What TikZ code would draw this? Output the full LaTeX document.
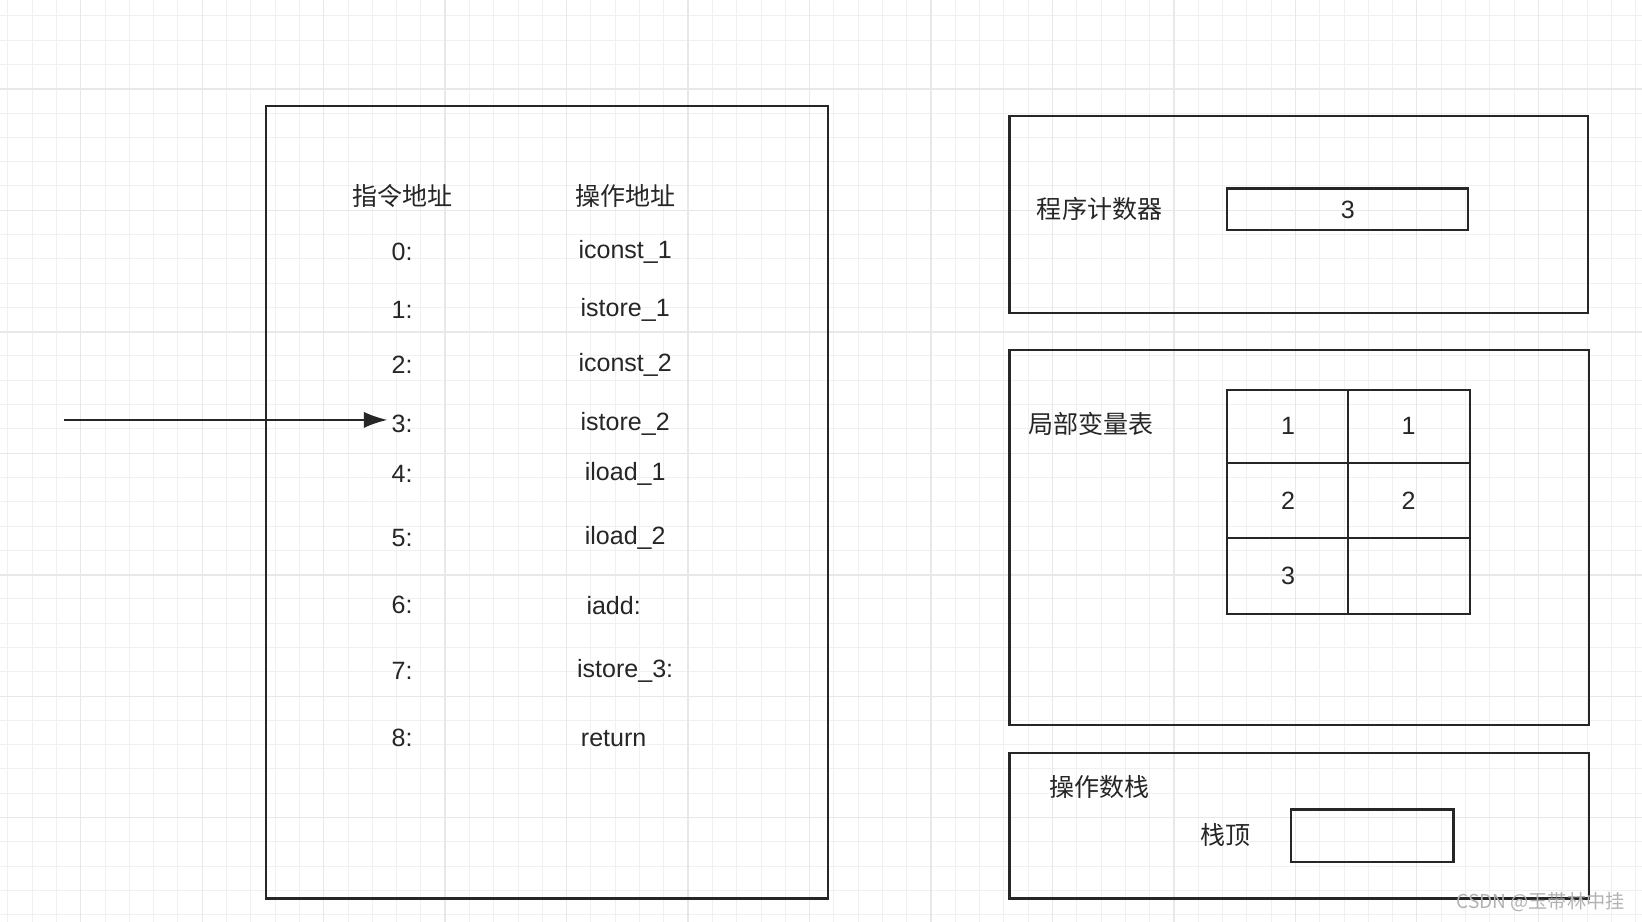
\documentclass[tikz,border=0pt]{standalone}
\usepackage{fontspec}
\setmainfont{Liberation Sans}
\newfontfamily\cjk{Noto Sans CJK SC}
\usetikzlibrary{arrows.meta}
\begin{document}
\begin{tikzpicture}[x=0.025cm,y=-0.025cm,
  frame/.style={draw=black!85,line width=1.4pt},
  cell/.style={draw=black!85,line width=1.4pt},
  txt/.style={font=\fontsize{17pt}{19pt}\selectfont,text=black!85,inner sep=0pt},
  ctxt/.style={font=\cjk\fontsize{17pt}{19pt}\selectfont,text=black!85,inner sep=0pt}]
\useasboundingbox (0,0) rectangle (1568,880);
\fill[white] (0,0) rectangle (1568,880);
\foreach \x in {0,23.2,...,1568} \draw[black!6,line width=0.5pt] (\x+7.4,0) -- (\x+7.4,880);
\foreach \y in {0,23.2,...,880} \draw[black!6,line width=0.5pt] (0,\y+15) -- (1568,\y+15);
\foreach \x in {77,193,309,425,541,657,773,889,1005,1121,1237,1353,1469} \draw[black!9,line width=0.8pt] (\x,0) -- (\x,880);
\foreach \y in {85,201,317,433,549,665,781} \draw[black!9,line width=0.8pt] (0,\y) -- (1568,\y);

% left box
\draw[frame] (254,101) rectangle (791,858);
\node[ctxt] (h1) at (384,187) {指令地址};
\node[ctxt] (h2) at (597,187) {操作地址};
\foreach \a/\b/\y/\bx [count=\i] in {0:/iconst\_1/241/597,1:/istore\_1/296/597,2:/iconst\_2/348/597,3:/istore\_2/405/597,4:/iload\_1/453/597,5:/iload\_2/514/597,6:/iadd:/578/586,7:/istore\_3:/641/597,8:/return/705/586}{
  \node[txt] (a\i) at (384,\y) {\a};
  \node[txt] (b\i) at (\bx,\y) {\b};
}
\coordinate (s) at (61,401);
\coordinate (e) at (370,401);
\draw[black!85,line width=1.4pt,-{Latex[length=16pt,width=11pt]}] (s) -- (e);

% PC
\draw[frame] (964,111) rectangle (1516,299);
\node[ctxt] (pc) at (1050,200) {程序计数器};
\draw[cell] (1172,180) rectangle (1402,220);
\node[txt] (pcv) at (1287,200) {3};

% local vars
\draw[frame] (964,334) rectangle (1517,692);
\node[ctxt] (lv) at (1042,405) {局部变量表};
\foreach \r/\ya/\yb in {1/372/442,2/442/514,3/514/586}{
  \draw[cell] (1172,\ya) rectangle (1287,\yb);
  \draw[cell] (1287,\ya) rectangle (1404,\yb);
}
\node[txt] (c11) at (1230,407) {1};
\node[txt] (c12) at (1345,407) {1};
\node[txt] (c21) at (1230,478) {2};
\node[txt] (c22) at (1345,478) {2};
\node[txt] (c31) at (1230,550) {3};

% operand stack
\draw[frame] (964,719) rectangle (1517,858);
\node[ctxt] (os) at (1050,752) {操作数栈};
\node[ctxt] (top) at (1170,797) {栈顶};
\draw[cell] (1233,773) rectangle (1388,823);

\node[font=\cjk\fontsize{13pt}{15pt}\selectfont,text=black!30,inner sep=0pt] (wm) at (1471,861) {CSDN @玉带林中挂};
\end{tikzpicture}
\end{document}
